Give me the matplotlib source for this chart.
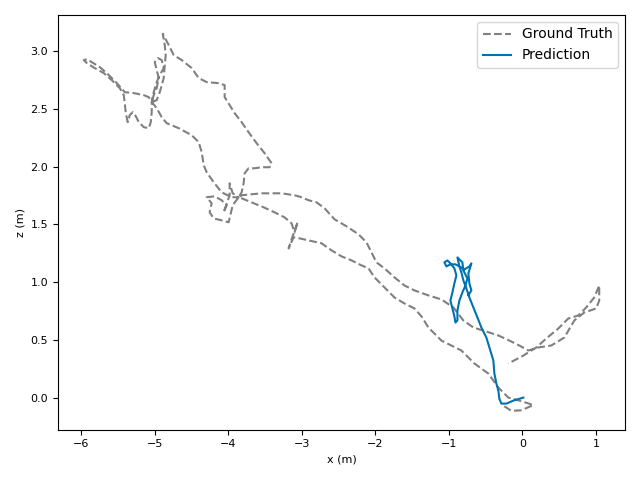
import matplotlib
matplotlib.use("Agg")
import matplotlib.pyplot as plt

# ground truth trajectory (x, z in metres)
gt_x = [-0.245, -0.149, -0.014, 0.149, -0.014, -0.190, -0.326, -0.462, -0.652, -0.829,
        -1.101, -1.277, -1.372, -1.467, -1.603, -1.739, -1.875, -2.011, -2.092, -2.188,
        -2.323, -2.459, -2.595, -2.731, -2.908, -3.030, -3.111, -3.179, -3.125, -3.057,
        -3.098, -3.139, -3.234, -3.370, -3.519, -3.682, -3.818, -3.859,
        -3.940, -3.995, -4.090, -4.198, -4.253, -4.226, -4.293, -4.185, -4.090, -4.022,
        -4.063, -3.981, -3.981, -3.940, -3.859,
        -3.954, -4.090, -4.198, -4.293, -4.334, -4.361, -4.402, -4.497, -4.674, -4.837,
        -4.905, -4.973, -5.041,
        -5.082, -5.149, -5.285, -5.408, -5.516, -5.652, -5.747, -5.856, -5.924, -5.965,
        -5.924, -5.815, -5.693, -5.584, -5.476, -5.421, -5.408, -5.394, -5.367, -5.340,
        -5.299, -5.258, -5.217, -5.149, -5.082, -5.054, -5.041, -5.041,
        -5.014, -4.973, -4.932, -4.878, -4.905, -4.959, -5.000, -4.973, -4.946, -4.973,
        -5.014, -5.041,
        -4.973, -4.932, -4.878, -4.864, -4.851, -4.864, -4.891, -4.810, -4.742, -4.633,
        -4.497, -4.402, -4.293, -4.130, -4.049, -4.049, -3.981, -3.913, -3.818, -3.723,
        -3.614, -3.505, -3.410, -3.438, -3.546, -3.641, -3.723, -3.777, -3.791, -3.818,
        -3.859,
        -3.818, -3.682, -3.546, -3.274, -3.098, -3.003, -2.908, -2.799, -2.690, -2.554,
        -2.391, -2.228, -2.120, -2.052, -1.984, -1.875, -1.739, -1.603, -1.467, -1.277,
        -1.101, -0.938, -0.802, -0.666, -0.489, -0.326, -0.177, -0.041, 0.082, 0.217,
        0.394, 0.571, 0.707, 0.842, 1.005, 1.046, 1.046,
        0.978, 0.870, 0.761, 0.625, 0.489, 0.326, 0.190, 0.014, -0.190]
gt_z = [-0.075, -0.115, -0.110, -0.065, -0.030, 0.000, 0.087, 0.208, 0.295, 0.408,
        0.494, 0.607, 0.703, 0.772, 0.815, 0.867, 0.954, 1.041, 1.119, 1.145,
        1.188, 1.223, 1.275, 1.336, 1.362, 1.379, 1.388, 1.292, 1.396, 1.518,
        1.431, 1.509, 1.561, 1.604, 1.648, 1.691, 1.726, 1.735,
        1.665, 1.518, 1.535, 1.552, 1.604, 1.683, 1.735, 1.743, 1.709, 1.665,
        1.604, 1.752, 1.856, 1.769, 1.735,
        1.735, 1.778, 1.865, 1.951, 2.012, 2.125, 2.212, 2.272, 2.333, 2.376,
        2.428, 2.506, 2.559,
        2.602, 2.619, 2.637, 2.645, 2.723, 2.810, 2.862, 2.905, 2.930, 2.923,
        2.897, 2.853, 2.810, 2.749, 2.680, 2.619, 2.550, 2.463, 2.385, 2.446,
        2.472, 2.437, 2.385, 2.342, 2.333, 2.385, 2.472, 2.559,
        2.645, 2.732, 2.793, 2.853, 2.923, 2.940, 2.905, 2.836, 2.767, 2.680,
        2.619, 2.559,
        2.576, 2.645, 2.767, 2.879, 2.966, 3.053, 3.150, 3.053, 2.966, 2.923,
        2.853, 2.767, 2.732, 2.723, 2.706, 2.602, 2.533, 2.463, 2.385, 2.298,
        2.203, 2.116, 2.029, 1.995, 1.995, 1.986, 1.986, 1.943, 1.856, 1.778,
        1.735,
        1.752, 1.761, 1.769, 1.769, 1.752, 1.735, 1.709, 1.691, 1.639, 1.544,
        1.483, 1.414, 1.344, 1.258, 1.171, 1.119, 1.041, 0.971, 0.928, 0.885,
        0.850, 0.781, 0.668, 0.607, 0.572, 0.538, 0.494, 0.451, 0.408, 0.434,
        0.451, 0.520, 0.668, 0.737, 0.772, 0.841, 0.971,
        0.867, 0.781, 0.711, 0.685, 0.598, 0.512, 0.434, 0.364, 0.295]

# predicted trajectory
pred_x = [0.014, -0.122, -0.217, -0.285, -0.313, -0.326, -0.353, -0.380, -0.394, -0.448,
          -0.489, -0.557, -0.611, -0.666, -0.720, -0.761, -0.802, -0.829, -0.856, -0.910,
          -0.978, -1.033, -1.060, -1.019, -0.978, -0.924, -0.897, -0.924, -0.951, -0.978,
          -0.951, -0.924, -0.910, -0.883, -0.883, -0.856, -0.815, -0.774, -0.747, -0.802,
          -0.815, -0.883, -0.856, -0.788, -0.720, -0.693, -0.734, -0.720, -0.693, -0.734]
pred_z = [0.000, -0.026, -0.052, -0.052, -0.009, 0.061, 0.121, 0.208, 0.321, 0.434,
          0.520, 0.607, 0.694, 0.781, 0.867, 0.945, 1.015, 1.084, 1.136, 1.154,
          1.154, 1.136, 1.171, 1.188, 1.162, 1.119, 1.058, 0.989, 0.911, 0.841,
          0.772, 0.703, 0.650, 0.668, 0.754, 0.841, 0.911, 0.971, 1.032, 1.101,
          1.171, 1.214, 1.136, 1.110, 1.136, 1.162, 1.075, 0.989, 0.928, 0.885]

fig, ax = plt.subplots(figsize=(6.4, 4.8), dpi=100)
ax.plot(gt_x, gt_z, '--', color='gray', linewidth=1.5, label='Ground Truth')
ax.plot(pred_x, pred_z, '-', color='#0072B2', linewidth=1.5, label='Prediction')
ax.set_xlabel('x (m)', fontsize=8)
ax.set_ylabel('z (m)', fontsize=8)
ax.tick_params(labelsize=8)
ax.legend(loc='upper right', fontsize=10)
fig.tight_layout()
fig.savefig('out.png')
